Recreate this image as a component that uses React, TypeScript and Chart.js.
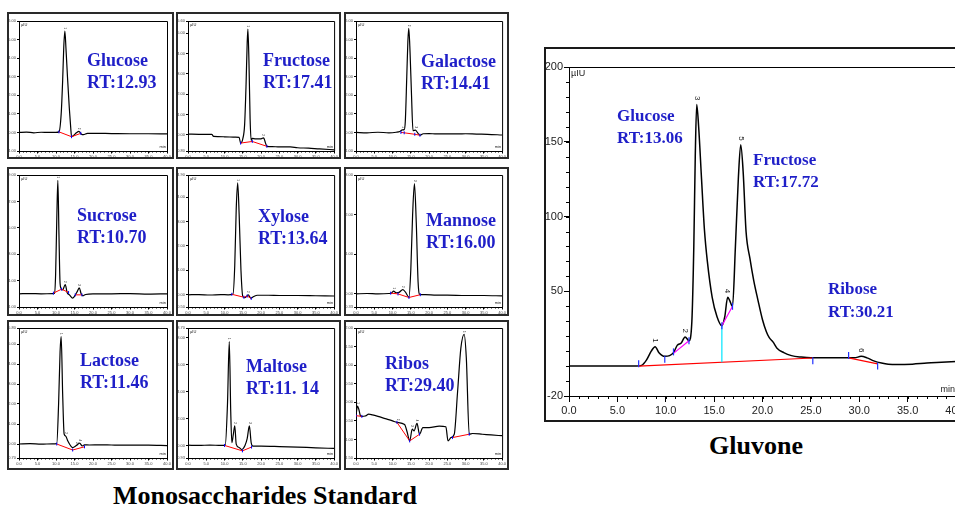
import React, { useEffect, useRef } from "react";
import { Chart, registerables } from "chart.js";
Chart.register(...registerables);

const SERIF = '"Liberation Serif", "Times New Roman", serif';
const NARROW = '"Liberation Sans Narrow", "Arial Narrow", "Liberation Sans", sans-serif';
const BLUE_TEXT = "#1f1fc8";

// ---------------- Small standard chromatograms ----------------
const glucoseTime = [0, 2, 4, 6, 8, 10, 10.8, 11.4, 11.8, 12.1, 12.4, 12.7, 13.1, 13.6, 14.0, 14.2, 14.8, 15.5, 16.2, 16.8, 17.4, 18.5, 20, 25, 30, 35, 40];
const glucoseSignal = [0, 0.02, -0.02, 0.01, 0, 0, 0.03, 1.0, 2.8, 4.6, 5.45, 4.5, 3.0, 1.3, 0.2, -0.23, -0.15, -0.02, 0.06, -0.08, -0.12, -0.05, -0.05, -0.06, -0.07, -0.07, -0.08];
const glucoseBaseTime = [10.8, 14.2, 16.7];
const glucoseBaseSignal = [0.03, -0.23, -0.05];
const glucosePeaks = [12.4, 16.2];

const fructoseTime = [0, 3, 6.5, 7, 10, 13, 14.0, 14.4, 15.0, 15.5, 15.9, 16.2, 16.4, 16.7, 17.0, 17.3, 17.6, 18.5, 20.0, 20.7, 21.2, 21.6, 23, 25, 28, 30, 33, 36, 40];
const fructoseSignal = [0.03, 0.02, 0.02, -0.08, -0.1, -0.12, -0.13, -0.41, -0.2, 0.5, 2.5, 4.5, 5.2, 3.5, 0.8, -0.28, -0.18, -0.2, -0.2, -0.15, -0.4, -0.57, -0.58, -0.6, -0.6, -0.64, -0.66, -0.7, -0.74];
const fructoseBaseTime = [14.4, 17.6, 21.6];
const fructoseBaseSignal = [-0.41, -0.33, -0.57];
const fructosePeaks = [16.4, 20.5];

const galactoseTime = [0, 3, 6, 9, 11, 12.0, 12.7, 13.2, 13.5, 13.9, 14.2, 14.45, 14.8, 15.2, 15.6, 16.3, 16.8, 17.5, 18.4, 20, 22, 25, 28, 30, 33, 36, 40];
const galactoseSignal = [0, -0.02, 0.01, -0.02, 0.01, 0.05, 0.14, 0.15, 0.6, 3.0, 4.9, 5.6, 4.3, 2.0, 0.1, 0.12, 0, -0.15, -0.07, -0.06, -0.08, -0.08, -0.08, -0.07, -0.09, -0.1, -0.14];
const galactoseBaseTime = [12.3, 13.2, 16.1, 17.5];
const galactoseBaseSignal = [0.0, -0.02, -0.1, -0.15];
const galactosePeaks = [12.7, 14.45, 16.3];

const sucroseTime = [0, 3, 6, 9, 9.6, 9.9, 10.2, 10.5, 10.8, 11.1, 11.4, 11.8, 12.5, 13.0, 13.7, 14.5, 15.3, 15.8, 16.3, 16.8, 17.3, 18, 20, 25, 30, 35, 40];
const sucroseSignal = [0, 0.02, 0, 0.01, 0.05, 1.5, 5.5, 8.6, 4.5, 0.8, 0.4, 0.3, 0.7, 0.1, -0.1, -0.33, -0.05, 0.2, 0.45, 0, -0.15, -0.05, 0, 0, 0.02, -0.02, 0];
const sucroseBaseTime = [9.3, 11.5, 13.4, 14.2, 15.2, 17.0];
const sucroseBaseSignal = [0.05, 0.35, 0.1, null, -0.08, -0.08];
const sucrosePeaks = [10.5, 12.5, 16.3];

const xyloseTime = [0, 3, 6, 9, 11, 12.3, 12.8, 13.2, 13.6, 14.0, 14.5, 15.0, 15.6, 16.5, 17.2, 18, 19, 22, 25, 30, 35, 40];
const xyloseSignal = [0, 0.01, -0.01, 0.01, 0, 0.02, 1.2, 3.5, 4.58, 3.3, 1.0, -0.07, -0.12, 0.0, -0.14, -0.07, -0.02, -0.02, -0.03, -0.03, -0.04, -0.05];
const xyloseBaseTime = [12.0, 15.3, 16.2, 17.3];
const xyloseBaseSignal = [0.02, -0.1, -0.05, -0.15];
const xylosePeaks = [13.6, 16.5];

const mannoseTime = [0, 3, 6, 9, 9.7, 10.3, 11.0, 11.8, 12.8, 13.5, 14.5, 15.0, 15.5, 16.0, 16.5, 17.0, 17.5, 19, 22, 25, 30, 35, 40];
const mannoseSignal = [0, 0.01, 0, 0.01, 0.02, 0.07, 0.03, 0.04, 0.11, 0.05, -0.08, 0.6, 2.0, 2.78, 1.8, 0.3, -0.02, -0.02, -0.03, -0.03, -0.04, -0.04, -0.05];
const mannoseBaseTime = [9.5, 11.5, 14.5, 17.6];
const mannoseBaseSignal = [0.02, 0.0, -0.09, -0.02];
const mannosePeaks = [10.3, 12.8, 16.0];

const lactoseTime = [0, 3, 6, 9, 10.2, 10.7, 11.1, 11.4, 11.8, 12.2, 12.6, 13.2, 14.0, 14.5, 15.5, 16.4, 17.1, 17.7, 19, 22, 25, 30, 35, 40];
const lactoseSignal = [0, 0.02, -0.01, 0.01, 0.02, 2.0, 4.6, 5.37, 2.5, 0.5, 0.4, 0.15, -0.1, -0.18, -0.08, 0.04, -0.1, -0.04, -0.05, -0.04, -0.05, -0.06, -0.06, -0.08];
const lactoseBaseTime = [10.2, 14.5, 17.7];
const lactoseBaseSignal = [0.0, -0.3, -0.14];
const lactosePeaks = [11.4, 12.6, 15.5, 16.4];

const maltoseTime = [0, 3, 6, 9, 10.2, 10.8, 11.3, 11.7, 12.0, 12.4, 12.8, 13.2, 14.0, 14.7, 15.6, 16.2, 16.8, 17.3, 17.8, 20, 25, 30, 35, 40];
const maltoseSignal = [0.02, 0, 0.03, 0, 0.02, 3.0, 7.7, 2.5, 0.2, 0.8, 1.45, 0.1, -0.15, -0.3, 0.0, 0.5, 1.45, 0.2, -0.05, -0.05, -0.08, -0.12, -0.18, -0.22];
const maltoseBaseTime = [10.0, 14.9, 17.4];
const maltoseBaseSignal = [0, -0.4, -0.12];
const maltosePeaks = [11.3, 12.8, 16.8];

const ribosTime = [0, 0.4, 0.8, 1.2, 1.6, 2.5, 3.5, 4.5, 6, 8, 10, 11.2, 13.3, 14.0, 14.7, 15.4, 15.9, 16.7, 17.4, 18.3, 20, 22.8, 24.6, 25.2, 26, 26.9, 27.8, 28.7, 29.6, 30.2, 31, 31.9, 34.6, 37, 40];
const ribosSignal = [-0.36, -0.1, -0.2, -0.36, -0.38, -0.37, -0.32, -0.34, -0.38, -0.44, -0.5, -0.54, -0.6, -0.8, -1.04, -0.72, -0.77, -0.57, -0.86, -0.68, -0.68, -0.64, -0.66, -1.04, -0.95, -0.86, 0.27, 1.45, 1.83, 1.2, -0.86, -0.84, -0.86, -0.88, -0.9];
const ribosBaseTime = [0, 1.6, 5, 11.2, 14.7, 17.4, 22, 26.4, 31.0];
const ribosBaseSignal = [-0.36, -0.38, null, -0.54, -1.04, -0.86, null, -0.95, -0.86];
const ribosPeaks = [0.4, 11.5, 15.4, 16.7, 29.6];

// ---------------- Gluvone sample ----------------
const mainTime = [0, 7.0, 7.5, 8.0, 8.5, 8.9, 9.3, 9.9, 10.4, 10.8, 11.2, 11.6, 12.0, 12.4, 12.7, 12.9, 13.05, 13.2, 13.4, 13.7, 14.0, 14.3, 14.8, 15.3, 15.8, 16.1, 16.4, 16.6, 16.9, 17.2, 17.5, 17.75, 18.0, 18.3, 18.7, 19.1, 19.5, 20.0, 20.4, 20.7, 21.1, 21.5, 22.2, 23.0, 24.0, 25.0, 26.5, 28.5, 29.5, 30.2, 30.8, 31.5, 32.3, 33.0, 34.0, 35.5, 37.0, 38.5, 40.0];
const mainSignal = [0, 0, 0.5, 4, 10, 13, 9, 6.5, 7, 9, 14, 15.5, 19.5, 17, 30, 80, 140, 175, 160, 125, 91, 70, 46, 33, 27, 33, 46, 44, 40, 80, 125, 148, 130, 90, 72, 57, 45, 31, 23, 19, 16, 12, 9, 7, 6, 5.5, 5.5, 5.5, 5.5, 6.5, 5.5, 3.5, 2, 1.2, 1, 1.3, 2, 2.5, 3];
const mainBaseTime = [7.2, 25.2, 27, 28.9, 31.9];
const mainBaseSignal = [0, 5.4, null, 5.5, 1.5];
const mainSplitTime = [10.8, 12.4, 14, 15.8, 16.9];
const mainSplitSignal = [8.5, 17, null, 27, 40];
const mainDropTime = [15.8, 15.8];
const mainDropSignal = [2.6, 27];
const mainMarkTime = [7.2, 9.9, 10.8, 12.4, 15.8, 16.9, 25.2, 28.9, 31.9];
const mainMarkSignal = [1.5, 4.5, 9.5, 17, 27, 40, 3.5, 7, 0];
const mainPeakTimes = [8.9, 12.0, 13.2, 16.4, 17.75, 30.2];
const mainPeakNames = ["1", "2", "3", "4", "5", "6"];
const mainYTicks = [-20, 50, 100, 150, 200];

// ---------------- Layout ----------------
const COL_BOX = [[7, 174], [176, 341], [344, 509]];
const COL_PLOT = [[19, 167], [188, 336], [356, 503]];
const ROW_BOX = [[12, 159], [167, 316], [320, 470]];
const ROW_PLOT = [[21, 151], [175, 307], [328, 458]];

type Cell = {
  name: string; rt: string; time: number[]; signal: number[];
  baseT: number[]; baseV: (number | null)[]; peaks: number[];
  yMin: number; yMax: number; yStep: number; col: number; row: number; tx: number; ty: number;
};

const cells: Cell[] = [
  { name: "Glucose", rt: "RT:12.93", time: glucoseTime, signal: glucoseSignal, baseT: glucoseBaseTime, baseV: glucoseBaseSignal, peaks: glucosePeaks, yMin: -1, yMax: 6, yStep: 1, col: 0, row: 0, tx: 87, ty: 67 },
  { name: "Fructose", rt: "RT:17.41", time: fructoseTime, signal: fructoseSignal, baseT: fructoseBaseTime, baseV: fructoseBaseSignal, peaks: fructosePeaks, yMin: -0.8, yMax: 5.6, yStep: 1, col: 1, row: 0, tx: 263, ty: 67 },
  { name: "Galactose", rt: "RT:14.41", time: galactoseTime, signal: galactoseSignal, baseT: galactoseBaseTime, baseV: galactoseBaseSignal, peaks: galactosePeaks, yMin: -1, yMax: 6, yStep: 1, col: 2, row: 0, tx: 421, ty: 68 },
  { name: "Sucrose", rt: "RT:10.70", time: sucroseTime, signal: sucroseSignal, baseT: sucroseBaseTime, baseV: sucroseBaseSignal, peaks: sucrosePeaks, yMin: -1, yMax: 9, yStep: 2, col: 0, row: 1, tx: 77, ty: 222 },
  { name: "Xylose", rt: "RT:13.64", time: xyloseTime, signal: xyloseSignal, baseT: xyloseBaseTime, baseV: xyloseBaseSignal, peaks: xylosePeaks, yMin: -0.5, yMax: 4.9, yStep: 1, col: 1, row: 1, tx: 258, ty: 223 },
  { name: "Mannose", rt: "RT:16.00", time: mannoseTime, signal: mannoseSignal, baseT: mannoseBaseTime, baseV: mannoseBaseSignal, peaks: mannosePeaks, yMin: -0.33, yMax: 3.0, yStep: 1, col: 2, row: 1, tx: 426, ty: 227 },
  { name: "Lactose", rt: "RT:11.46", time: lactoseTime, signal: lactoseSignal, baseT: lactoseBaseTime, baseV: lactoseBaseSignal, peaks: lactosePeaks, yMin: -0.7, yMax: 5.8, yStep: 1, col: 0, row: 2, tx: 80, ty: 367 },
  { name: "Maltose", rt: "RT:11. 14", time: maltoseTime, signal: maltoseSignal, baseT: maltoseBaseTime, baseV: maltoseBaseSignal, peaks: maltosePeaks, yMin: -0.93, yMax: 8.7, yStep: 2, col: 1, row: 2, tx: 246, ty: 373 },
  { name: "Ribos", rt: "RT:29.40", time: ribosTime, signal: ribosSignal, baseT: ribosBaseTime, baseV: ribosBaseSignal, peaks: ribosPeaks, yMin: -1.5, yMax: 2.0, yStep: 0.5, col: 2, row: 2, tx: 385, ty: 370 },
];

function pts(t: number[], v: (number | null)[]) {
  return t.map((x, i) => ({ x, y: v[i] }));
}
function marks(t: number[], v: (number | null)[]) {
  return t.map((x, i) => ({ x, y: v[i] })).filter((p) => p.y !== null);
}

const decoPlugin = {
  id: "deco",
  afterDatasetsDraw(chart: any, _a: any, o: any) {
    const { ctx, chartArea: a, scales } = chart;
    const x = scales.x, y = scales.y;
    ctx.save();
    ctx.strokeStyle = "#000";
    ctx.lineWidth = 1;
    ctx.beginPath();
    ctx.moveTo(a.left, a.top + 0.5);
    ctx.lineTo(a.right + 0.5, a.top + 0.5);
    ctx.lineTo(a.right + 0.5, a.bottom);
    ctx.stroke();
    ctx.beginPath();
    for (let t = x.min; t <= x.max + 1e-9; t += o.xMinor) {
      const px = Math.round(x.getPixelForValue(t)) + 0.5;
      ctx.moveTo(px, a.bottom);
      ctx.lineTo(px, a.bottom + o.minorLen);
    }
    if (o.yMinor) {
      for (let v = Math.ceil(y.min / o.yMinor) * o.yMinor; v <= y.max + 1e-9; v += o.yMinor) {
        const py = Math.round(y.getPixelForValue(v)) + 0.5;
        ctx.moveTo(a.left, py);
        ctx.lineTo(a.left - o.minorLen, py);
      }
    }
    ctx.stroke();
    ctx.fillStyle = "#222";
    ctx.font = `${o.unitSize}px ${NARROW}`;
    ctx.textAlign = "left";
    ctx.textBaseline = "top";
    ctx.fillText(o.unit, a.left + 2, a.top + 2);
    ctx.textAlign = "right";
    ctx.textBaseline = "bottom";
    ctx.fillText("min", a.right - 1, a.bottom - 2);
    // peak labels
    const data = chart.data.datasets[0].data as { x: number; y: number }[];
    ctx.font = `${o.peakSize}px ${NARROW}`;
    ctx.textBaseline = "middle";
    ctx.textAlign = "right";
    (o.peaks as number[]).forEach((t, i) => {
      let best = data[0];
      data.forEach((p) => { if (Math.abs(p.x - t) < Math.abs(best.x - t)) best = p; });
      const px = x.getPixelForValue(t);
      const py = y.getPixelForValue(best.y) - o.peakGap;
      ctx.save();
      ctx.translate(px, py);
      ctx.rotate(Math.PI / 2);
      ctx.fillText(o.peakNames ? o.peakNames[i] : String(i + 1), 0, 0);
      ctx.restore();
    });
    ctx.restore();
  },
};

function Label({ x, y, size, lh, lines }: { x: number; y: number; size: number; lh: number; lines: string[] }) {
  const off = (lh - size * 1.107) / 2 + size * 0.891;
  return (
    <div style={{ position: "absolute", left: x, top: y - off, font: `bold ${size}px ${SERIF}`, lineHeight: `${lh}px`, color: BLUE_TEXT, whiteSpace: "pre" }}>
      {lines.map((l) => (<div key={l}>{l}</div>))}
    </div>
  );
}

function SmallChart({ cell }: { cell: Cell }) {
  const ref = useRef<HTMLCanvasElement>(null);
  const [bx0, bx1] = COL_BOX[cell.col];
  const [by0, by1] = ROW_BOX[cell.row];
  const [px0, px1] = COL_PLOT[cell.col];
  const [py0, py1] = ROW_PLOT[cell.row];
  const B = 2;
  const cx = bx0 + B, cy = by0 + B;
  const cw = bx1 - bx0 - 2 * B, ch = by1 - by0 - 2 * B;
  useEffect(() => {
    const chart = new Chart(ref.current as HTMLCanvasElement, {
      type: "scatter",
      data: {
        datasets: [
          { data: pts(cell.time, cell.signal), showLine: true, borderColor: "#000", borderWidth: 1.2, pointRadius: 0, cubicInterpolationMode: "monotone", order: 3 } as any,
          { data: pts(cell.baseT, cell.baseV), showLine: true, spanGaps: false, borderColor: "#ff0000", borderWidth: 1, pointRadius: 0, order: 2 } as any,
          { data: marks(cell.baseT, cell.baseV), showLine: false, pointStyle: "line", pointRotation: 90, pointRadius: 1.5, pointBorderColor: "#0000ff", pointBorderWidth: 1, order: 1 } as any,
        ],
      },
      options: {
        responsive: false, animation: false, devicePixelRatio: 1, events: [],
        layout: { autoPadding: false, padding: { left: 0, top: py0 - cy, right: cx + cw - px1, bottom: 0 } } as any,
        plugins: {
          legend: { display: false }, tooltip: { enabled: false },
          deco: { xMinor: 1, yMinor: 0, minorLen: 1.5, unit: "µIU", unitSize: 4, peaks: cell.peaks, peakSize: 3, peakGap: 2 },
        } as any,
        scales: {
          x: {
            type: "linear", min: 0, max: 40,
            afterFit: (s: any) => { s.height = cy + ch - py1; },
            ticks: { stepSize: 5, autoSkip: false, maxRotation: 0, padding: 1, color: "#444", font: { size: 4, family: NARROW }, callback: (v: any) => Number(v).toFixed(1) },
            grid: { drawOnChartArea: false, tickLength: 2.5, color: "#000", tickColor: "#000" },
            border: { color: "#000", width: 1 },
          },
          y: {
            type: "linear", min: cell.yMin, max: cell.yMax,
            afterFit: (s: any) => { s.width = px0 - cx; },
            ticks: { stepSize: cell.yStep, autoSkip: false, padding: 1, color: "#444", font: { size: 4, family: NARROW }, callback: (v: any) => Number(v).toFixed(2) },
            grid: { drawOnChartArea: false, tickLength: 2, color: "#000", tickColor: "#000" },
            border: { color: "#000", width: 1 },
          },
        },
      },
      plugins: [decoPlugin],
    });
    return () => chart.destroy();
  }, []);
  return (
    <>
      <div style={{ position: "absolute", left: bx0, top: by0, width: bx1 - bx0, height: by1 - by0, boxSizing: "border-box", border: `${B}px solid #2a2a2a` }}>
        <canvas ref={ref} width={cw} height={ch} style={{ display: "block", width: cw, height: ch }} />
      </div>
      <Label x={cell.tx} y={cell.ty} size={18} lh={21.5} lines={[cell.name, cell.rt]} />
    </>
  );
}

function MainChart() {
  const ref = useRef<HTMLCanvasElement>(null);
  const bx0 = 544, by0 = 47, bw = 440, bh = 375, B = 2;
  const cx = bx0 + B, cy = by0 + B, cw = bw - 2 * B, ch = bh - 2 * B;
  const plotL = 569, plotT = 67, plotR = 956, plotB = 396;
  useEffect(() => {
    const chart = new Chart(ref.current as HTMLCanvasElement, {
      type: "scatter",
      data: {
        datasets: [
          { data: pts(mainTime, mainSignal), showLine: true, borderColor: "#000", borderWidth: 1.5, pointRadius: 0, cubicInterpolationMode: "monotone", order: 5 } as any,
          { data: pts(mainBaseTime, mainBaseSignal), showLine: true, spanGaps: false, borderColor: "#ff0000", borderWidth: 1.2, pointRadius: 0, order: 4 } as any,
          { data: pts(mainSplitTime, mainSplitSignal), showLine: true, spanGaps: false, borderColor: "#ff00ff", borderWidth: 1.2, pointRadius: 0, order: 3 } as any,
          { data: pts(mainDropTime, mainDropSignal), showLine: true, borderColor: "#00e5ff", borderWidth: 1.2, pointRadius: 0, order: 2 } as any,
          { data: pts(mainMarkTime, mainMarkSignal), showLine: false, pointStyle: "line", pointRotation: 90, pointRadius: 3.5, pointBorderColor: "#2030ff", pointBorderWidth: 1.2, order: 1 } as any,
        ],
      },
      options: {
        responsive: false, animation: false, devicePixelRatio: 1, events: [],
        layout: { autoPadding: false, padding: { left: 0, top: plotT - cy, right: cx + cw - plotR, bottom: 0 } } as any,
        plugins: {
          legend: { display: false }, tooltip: { enabled: false },
          deco: { xMinor: 1, yMinor: 10, minorLen: 3, unit: "µIU", unitSize: 9, peaks: mainPeakTimes, peakNames: mainPeakNames, peakSize: 8, peakGap: 4 },
        } as any,
        scales: {
          x: {
            type: "linear", min: 0, max: 40,
            afterFit: (s: any) => { s.height = cy + ch - plotB; },
            ticks: { stepSize: 5, autoSkip: false, maxRotation: 0, padding: 2, color: "#222", font: { size: 11, family: NARROW }, callback: (v: any) => Number(v).toFixed(1) },
            grid: { drawOnChartArea: false, tickLength: 6, color: "#000", tickColor: "#000" },
            border: { color: "#000", width: 1 },
          },
          y: {
            type: "linear", min: -20, max: 200,
            afterBuildTicks: (s: any) => { s.ticks = mainYTicks.map((v) => ({ value: v })); },
            afterFit: (s: any) => { s.width = plotL - cx; },
            ticks: { autoSkip: false, padding: 1, color: "#222", font: { size: 11, family: NARROW }, callback: (v: any) => String(v) },
            grid: { drawOnChartArea: false, tickLength: 5, color: "#000", tickColor: "#000" },
            border: { color: "#000", width: 1 },
          },
        },
      },
      plugins: [decoPlugin],
    });
    return () => chart.destroy();
  }, []);
  return (
    <>
      <div style={{ position: "absolute", left: bx0, top: by0, width: bw, height: bh, boxSizing: "border-box", border: `${B}px solid #1a1a1a` }}>
        <canvas ref={ref} width={cw} height={ch} style={{ display: "block", width: cw, height: ch }} />
      </div>
      <Label x={617} y={122} size={17} lh={22} lines={["Glucose", "RT:13.06"]} />
      <Label x={753} y={166} size={17} lh={22} lines={["Fructose", "RT:17.72"]} />
      <Label x={828} y={294} size={17} lh={23} lines={["Ribose", "RT:30.21"]} />
    </>
  );
}

export default function App() {
  return (
    <div style={{ position: "absolute", left: 0, top: 0, width: 955, height: 506, overflow: "hidden", background: "#fff" }}>
      {cells.map((c) => (<SmallChart key={c.name} cell={c} />))}
      <MainChart />
      <div style={{ position: "absolute", left: 65, top: 483, width: 400, textAlign: "center", font: `bold 26px ${SERIF}`, lineHeight: "26px", color: "#000" }}>
        Monosaccharides Standard
      </div>
      <div style={{ position: "absolute", left: 556, top: 433, width: 400, textAlign: "center", font: `bold 26px ${SERIF}`, lineHeight: "26px", color: "#000" }}>
        Gluvone
      </div>
    </div>
  );
}
